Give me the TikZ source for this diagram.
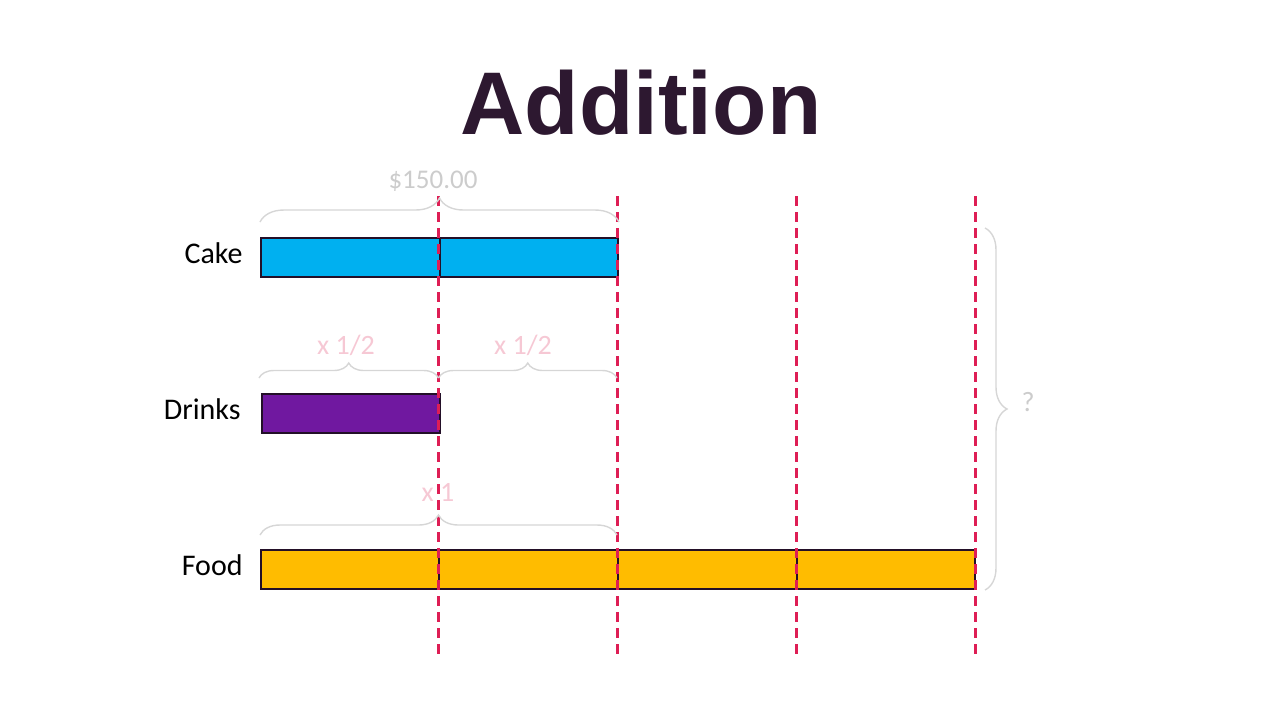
\documentclass[tikz,border=0pt]{standalone}
\usepackage{fontspec}
\setmainfont{Carlito}
\newfontfamily\titlefont{Liberation Sans}
\usetikzlibrary{positioning, calc, decorations.pathreplacing}
\definecolor{titleplum}{RGB}{45,24,48}
\definecolor{cakeblue}{RGB}{0,176,240}
\definecolor{drinkpurple}{RGB}{112,24,160}
\definecolor{foodgold}{RGB}{255,188,0}
\definecolor{barline}{RGB}{35,15,40}
\definecolor{guidered}{RGB}{222,30,85}
\definecolor{bracegray}{RGB}{214,214,214}
\definecolor{pricegray}{RGB}{204,204,204}
\definecolor{notepink}{RGB}{246,200,212}
\tikzset{
  bar/.style={draw=barline, line width=1pt, minimum height=19.5pt,
              inner sep=0pt, anchor=west},
  lbl/.style={font=\fontsize{15}{18}\selectfont, text=black, inner sep=0pt,
              yshift=2pt},
  guide/.style={guidered, line width=1.5pt, dash pattern=on 5pt off 3pt},
  brc/.style={decorate, decoration={brace, amplitude=#1}, draw=bracegray,
              line width=0.7pt},
  note/.style={font=\fontsize{14}{17}\selectfont, text=notepink, inner sep=0pt},
}

\begin{document}
\begin{tikzpicture}[x=0.5pt, y=-0.5pt]
  \useasboundingbox (0,0) rectangle (1280,720);

  % ─── Title ─────────────────────────────────────────────────────────
  \node[font=\titlefont\bfseries\fontsize{44.5}{50}\selectfont, text=titleplum,
        anchor=base] (title) at (641,134) {Addition};

  % ─── Bars ──────────────────────────────────────────────────────────
  \node[bar, fill=cakeblue,    minimum width=178.5pt] (cake)   at (260,257.5) {};
  \node[bar, fill=drinkpurple, minimum width=89pt]    (drinks) at (261,413.5) {};
  \node[bar, fill=foodgold,    minimum width=357pt]   (food)   at (260,569.5) {};

  \node[lbl, left=8.5pt of cake]   (lcake)   {Cake};
  \node[lbl, left=10pt of drinks]  (ldrinks) {Drinks};
  \node[lbl, left=8.5pt of food]   (lfood)   {Food};

  % unit dividers
  \draw[barline, line width=1pt] ($(cake.north west)!0.5!(cake.north east)$)
    -- ($(cake.south west)!0.5!(cake.south east)$);
  \foreach \k in {1,2,3}
    \draw[barline, line width=1pt] ($(food.north west)!\k/4!(food.north east)$)
      -- ($(food.south west)!\k/4!(food.south east)$);

  % ─── Red guides ────────────────────────────────────────────────────
  \foreach \gx in {438.5,617,796,975}
    \draw[guide] (\gx,196) -- (\gx,658);

  % ─── Braces and notes ──────────────────────────────────────────────
  \coordinate (cb1) at ($(cake.north west)+(0,-15)$);
  \coordinate (cb2) at ($(cake.north east)+(0,-15)$);
  \draw[brc=12pt] (cb1) -- (cb2);
  \node[note, text=pricegray, font=\fontsize{13.5}{16}\selectfont]
    (price) at (433,181) {\$150.00};

  \coordinate (db1) at (259,378);
  \coordinate (db2) at (438.5,378);
  \coordinate (db3) at (617,378);
  \draw[brc=7.5pt] (db1) -- (db2);
  \draw[brc=7.5pt] (db2) -- (db3);
  \node[note] (half1) at (346,345) {x 1/2};
  \node[note] (half2) at (523,345) {x 1/2};

  \coordinate (fb1) at ($(food.north west)+(0,-14)$);
  \coordinate (fb2) at ($(food.north west)+(357,-14)$);
  \draw[brc=10pt] (fb1) -- (fb2);
  \node[note] (one) at (438,492) {x 1};

  \coordinate (qtop) at (985,228);
  \coordinate (qbot) at (985,590);
  \draw[brc=11pt] (qtop) -- (qbot);
  \node[note, text=pricegray] (total) at (1028,402) {?};

\end{tikzpicture}
\end{document}
